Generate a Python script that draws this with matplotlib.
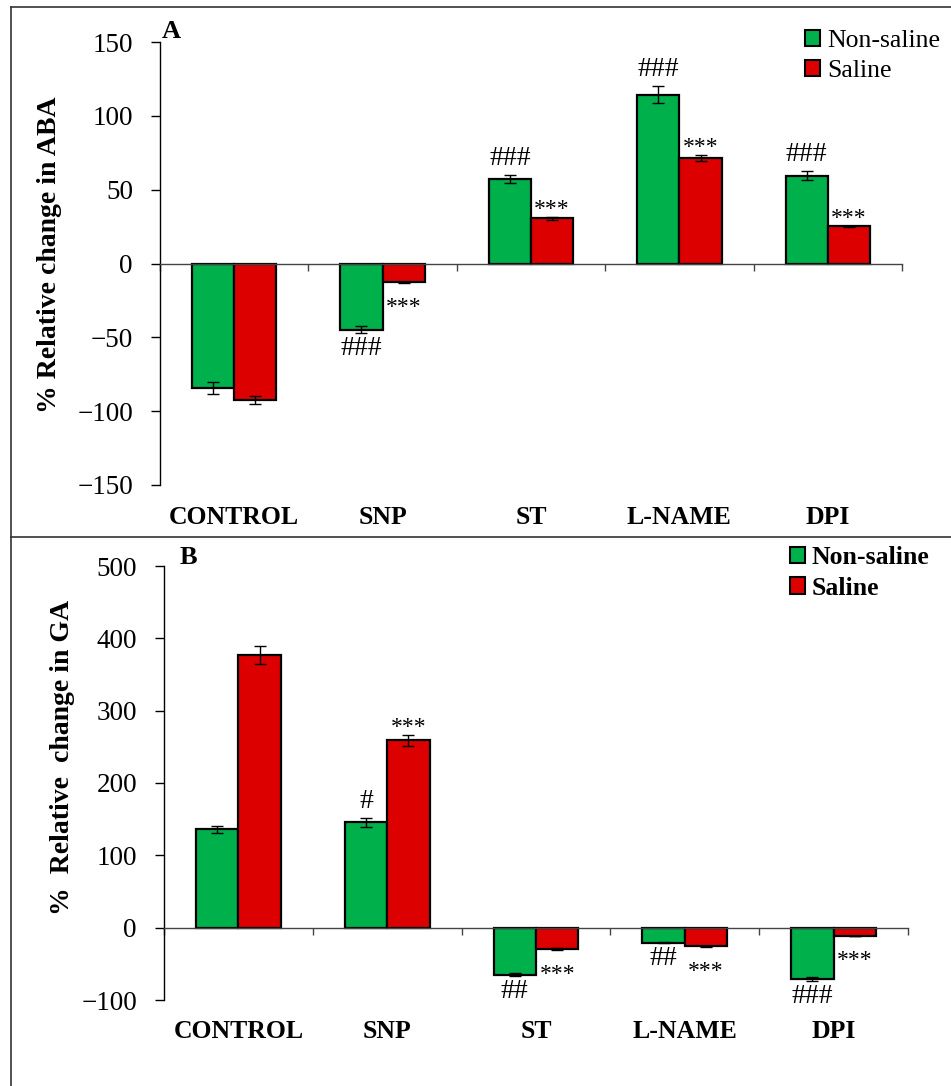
import matplotlib
matplotlib.use("Agg")
import matplotlib.pyplot as plt
import numpy as np
from matplotlib.lines import Line2D
from matplotlib.patches import Patch

plt.rcParams["font.family"] = ["Liberation Serif", "DejaVu Serif"]

categories = ["CONTROL", "SNP", "ST", "L-NAME", "DPI"]

# panel A: ABA
aba_non = [-84.5, -44.8, 57.2, 114.4, 59.5]
aba_non_err = [4.0, 2.3, 3.0, 5.7, 3.0]
aba_sal = [-92.5, -12.8, 30.5, 71.6, 25.1]
aba_sal_err = [2.5, 0.4, 0.8, 2.0, 0.6]
aba_non_marks = ["", "###", "###", "###", "###"]
aba_sal_marks = ["", "***", "***", "***", "***"]

# panel B: GA
ga_non = [136.0, 145.4, -65.3, -20.8, -71.3]
ga_non_err = [5.0, 6.0, 2.0, 0.5, 2.5]
ga_sal = [376.9, 259.0, -29.2, -25.5, -11.6]
ga_sal_err = [12.0, 8.0, 1.0, 0.8, 0.5]
ga_non_marks = ["", "#", "##", "##", "###"]
ga_sal_marks = ["", "***", "***", "***", "***"]

GREEN = "#00B04A"
RED = "#DD0000"
W = 0.285
W_PX, H_PX = 951, 1086


def frac(x0, y_top, x1, y_bot):
    return [x0 / W_PX, 1 - y_bot / H_PX, (x1 - x0) / W_PX, (y_bot - y_top) / H_PX]


def mark(ax, x, val, err, txt):
    if not txt:
        return
    hashes = "#" in txt
    if val >= 0:
        off = 10 if hashes else 2
        y = val + err
    else:
        off = -22 if hashes else -30
        y = val - err
    ax.annotate(txt, xy=(x, y), xytext=(0, off), textcoords="offset pixels",
                ha="center", va="baseline", fontsize=20 if hashes else 17)


def panel(ax, non, non_err, sal, sal_err, non_marks, sal_marks, ylim, yticks):
    x = np.arange(len(categories))
    ekw = dict(elinewidth=1.0, capthick=1.0, ecolor="black")
    ax.bar(x - W / 2, non, W, yerr=non_err, color=GREEN, edgecolor="black",
           linewidth=1.6, capsize=4, error_kw=ekw, label="Non-saline", zorder=2)
    ax.bar(x + W / 2, sal, W, yerr=sal_err, color=RED, edgecolor="black",
           linewidth=1.6, capsize=4, error_kw=ekw, label="Saline", zorder=2)
    for i in range(len(categories)):
        mark(ax, x[i] - W / 2, non[i], non_err[i], non_marks[i])
        mark(ax, x[i] + W / 2, sal[i], sal_err[i], sal_marks[i])
    ax.set_xlim(-0.5, len(categories) - 0.5)
    ax.set_ylim(*ylim)
    ax.set_yticks(yticks)
    ax.tick_params(axis="y", labelsize=19.5, length=6.5, width=1, pad=13)
    ax.spines["top"].set_visible(False)
    ax.spines["right"].set_visible(False)
    ax.spines["bottom"].set_position(("data", 0))
    ax.spines["left"].set_linewidth(1)
    ax.spines["bottom"].set_linewidth(1)
    ax.spines["bottom"].set_color("#444444")
    ax.set_xticks(np.arange(len(categories) + 1) - 0.5)
    ax.set_xticklabels([])
    ax.tick_params(axis="x", length=5, width=1, color="#444444")
    for i, c in enumerate(categories):
        ax.annotate(c, xy=(i, 0), xycoords=("data", "axes fraction"),
                    xytext=(0, -32), textcoords="offset pixels",
                    ha="center", va="center", fontsize=18.5, fontweight="bold")


fig = plt.figure(figsize=(W_PX / 100, H_PX / 100), dpi=100)

axA = fig.add_axes(frac(160, 42, 902, 485))
panel(axA, aba_non, aba_non_err, aba_sal, aba_sal_err, aba_non_marks, aba_sal_marks,
      (-150, 150), [-150, -100, -50, 0, 50, 100, 150])
axA.set_ylabel("% Relative change in ABA", fontsize=20, fontweight="bold")
axA.yaxis.set_label_coords(-0.132, 0.52)
fig.text(171 / W_PX, 1 - 31 / H_PX, "A", fontsize=19, fontweight="bold", ha="center", va="center")

axB = fig.add_axes(frac(164, 566, 908, 1000))
panel(axB, ga_non, ga_non_err, ga_sal, ga_sal_err, ga_non_marks, ga_sal_marks,
      (-100, 500), [-100, 0, 100, 200, 300, 400, 500])
axB.set_ylabel("%  Relative  change in GA", fontsize=20, fontweight="bold")
axB.yaxis.set_label_coords(-0.12, 0.56)
fig.text(188 / W_PX, 1 - 558 / H_PX, "B", fontsize=19, fontweight="bold", ha="center", va="center")

handles = [Patch(facecolor=GREEN, edgecolor="black", linewidth=1.5),
           Patch(facecolor=RED, edgecolor="black", linewidth=1.5)]
leg_kw = dict(loc="upper left", frameon=False, handlelength=0.6, handleheight=0.6,
              handletextpad=0.25, borderpad=0, borderaxespad=0, labelspacing=0.3)
fig.legend(handles, ["Non-saline", "Saline"], bbox_to_anchor=(805 / W_PX, 1 - 30 / H_PX),
           prop=dict(size=18.5), **leg_kw)
fig.legend(handles, ["Non-saline", "Saline"], bbox_to_anchor=(790 / W_PX, 1 - 546 / H_PX),
           prop=dict(size=18.5, weight="bold"), **leg_kw)

# outer frame lines
lc = dict(color="#333333", linewidth=1.2)
fig.add_artist(Line2D([11 / W_PX, 1], [1 - 7 / H_PX, 1 - 7 / H_PX], **lc))
fig.add_artist(Line2D([11 / W_PX, 11 / W_PX], [0, 1 - 7 / H_PX], **lc))
fig.add_artist(Line2D([11 / W_PX, 1], [1 - 537 / H_PX, 1 - 537 / H_PX], **lc))

fig.savefig("out.png", dpi=100)
